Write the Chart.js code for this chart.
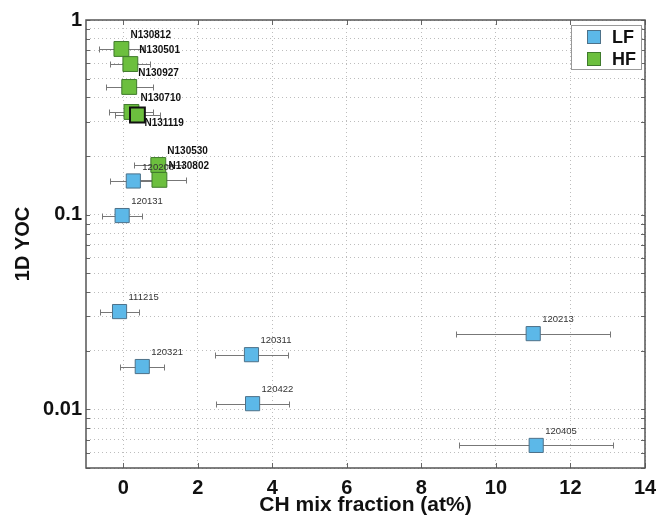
<!DOCTYPE html>
<html>
<head>
<meta charset="utf-8">
<script src="https://cdn.jsdelivr.net/npm/chart.js@4.4.1/dist/chart.umd.min.js"></script>
<style>
  html, body { margin: 0; padding: 0; background: #fff; }
  #wrap { width: 658px; height: 518px; }
</style>
</head>
<body>
<div id="wrap"><canvas id="chart" width="658" height="518"></canvas></div>
<script>
// LF shots
const LF_NAMES = ['111215', '120131', '120208', '120213', '120311', '120321', '120405', '120422'];
const LF_X = [-0.1, -0.03, 0.27, 11.0, 3.44, 0.51, 11.08, 3.47];
const LF_Y = [0.0318, 0.099, 0.149, 0.0245, 0.0191, 0.0166, 0.00653, 0.0107];
const LF_XERR = [0.52, 0.54, 0.62, 2.07, 0.98, 0.59, 2.06, 0.98];

// HF shots
const HF_NAMES = ['N130812', 'N130501', 'N130927', 'N130710', 'N131119', 'N130530', 'N130802'];
const HF_X = [-0.05, 0.19, 0.16, 0.22, 0.38, 0.94, 0.97];
const HF_Y = [0.71, 0.594, 0.453, 0.337, 0.325, 0.18, 0.151];
const HF_XERR = [0.59, 0.54, 0.63, 0.59, 0.6, 0.65, 0.7];

// axes
const X_TICKS = [0, 2, 4, 6, 8, 10, 12, 14];
const Y_TICKS = [0.005, 0.006, 0.007, 0.008, 0.009,
  0.01, 0.02, 0.03, 0.04, 0.05, 0.06, 0.07, 0.08, 0.09,
  0.1, 0.2, 0.3, 0.4, 0.5, 0.6, 0.7, 0.8, 0.9, 1];
const Y_MAJOR = [1, 0.1, 0.01];
const Y_MAJOR_LABELS = ['1', '0.1', '0.01'];

const HIGHLIGHT = ['N131119'];   // drawn with black outline
const LABEL_BELOW = ['N131119']; // label sits under the marker

const FONT = "'Liberation Sans', Arial, Helvetica, sans-serif";
const ERR_COLOR = '#777';

function pts(xs, ys) { return xs.map((x, i) => ({ x, y: ys[i] })); }

const decor = {
  id: 'decor',
  beforeDatasetsDraw(chart) {
    const { ctx, scales: { x, y } } = chart;
    ctx.save();
    ctx.strokeStyle = ERR_COLOR;
    ctx.lineWidth = 1;
    chart.data.datasets.forEach(ds => {
      ds.data.forEach((p, i) => {
        const e = ds.xErr[i];
        const py = Math.round(y.getPixelForValue(p.y)) + 0.5;
        const x0 = Math.round(x.getPixelForValue(p.x - e)) + 0.5;
        const x1 = Math.round(x.getPixelForValue(p.x + e)) + 0.5;
        ctx.beginPath();
        ctx.moveTo(x0, py); ctx.lineTo(x1, py);
        ctx.moveTo(x0, py - 3); ctx.lineTo(x0, py + 3);
        ctx.moveTo(x1, py - 3); ctx.lineTo(x1, py + 3);
        ctx.stroke();
      });
    });
    ctx.restore();
  },
  afterDatasetsDraw(chart) {
    const { ctx, scales: { x, y } } = chart;
    ctx.save();
    ctx.textAlign = 'left';
    ctx.textBaseline = 'middle';
    chart.data.datasets.forEach(ds => {
      ctx.font = ds.labelFont;
      ctx.fillStyle = ds.labelColor;
      ds.data.forEach((p, i) => {
        const name = ds.names[i];
        const px = x.getPixelForValue(p.x);
        const py = y.getPixelForValue(p.y);
        const below = LABEL_BELOW.includes(name);
        ctx.fillText(name, px + (below ? 7 : 9), py + (below ? 8 : -14));
      });
    });
    ctx.restore();
  },
  afterDraw(chart) {
    const { ctx, chartArea: a, scales: { x, y } } = chart;
    ctx.save();
    // inward tick marks
    ctx.strokeStyle = '#666';
    ctx.lineWidth = 1;
    ctx.beginPath();
    y.ticks.forEach(t => {
      const py = Math.round(y.getPixelForValue(t.value)) + 0.5;
      ctx.moveTo(a.left, py); ctx.lineTo(a.left + 4, py);
      ctx.moveTo(a.right, py); ctx.lineTo(a.right - 4, py);
    });
    x.ticks.forEach(t => {
      const px = Math.round(x.getPixelForValue(t.value)) + 0.5;
      ctx.moveTo(px, a.bottom); ctx.lineTo(px, a.bottom - 5);
      ctx.moveTo(px, a.top); ctx.lineTo(px, a.top + 5);
    });
    ctx.stroke();
    // frame
    ctx.strokeStyle = '#555';
    ctx.lineWidth = 1.5;
    ctx.strokeRect(a.left, a.top, a.right - a.left, a.bottom - a.top);
    // legend box
    const bw = 70, bh = 44;
    const bx = a.right - 4 - bw, by = a.top + 5;
    ctx.fillStyle = '#fff';
    ctx.fillRect(bx, by, bw, bh);
    ctx.strokeStyle = '#999';
    ctx.lineWidth = 1;
    ctx.strokeRect(bx + 0.5, by + 0.5, bw, bh);
    ctx.font = `bold 18px ${FONT}`;
    ctx.textBaseline = 'middle';
    ctx.textAlign = 'left';
    chart.data.datasets.forEach((ds, i) => {
      const cy = by + 12 + i * 22;
      ctx.fillStyle = ds.backgroundColor;
      ctx.fillRect(bx + 16, cy - 7, 14, 14);
      ctx.strokeStyle = ds.legendBorder;
      ctx.strokeRect(bx + 16.5, cy - 6.5, 13, 13);
      ctx.fillStyle = '#111';
      ctx.fillText(ds.label, bx + 41, cy + 1);
    });
    ctx.restore();
  }
};

new Chart(document.getElementById('chart'), {
  type: 'scatter',
  data: {
    datasets: [
      {
        label: 'LF',
        data: pts(LF_X, LF_Y),
        xErr: LF_XERR,
        names: LF_NAMES,
        labelFont: `9.5px ${FONT}`,
        labelColor: '#333',
        backgroundColor: '#5cb8e8',
        borderColor: '#4d7189',
        legendBorder: '#4d7189',
        borderWidth: 1,
        pointStyle: 'rect',
        pointRadius: 10
      },
      {
        label: 'HF',
        data: pts(HF_X, HF_Y),
        xErr: HF_XERR,
        names: HF_NAMES,
        labelFont: `bold 10px ${FONT}`,
        labelColor: '#111',
        backgroundColor: '#6cbf3e',
        borderColor: c => HIGHLIGHT.includes(HF_NAMES[c.dataIndex]) ? '#111' : '#3f7a2c',
        borderWidth: c => HIGHLIGHT.includes(HF_NAMES[c.dataIndex]) ? 2 : 1,
        legendBorder: '#3f7a2c',
        pointStyle: 'rect',
        pointRadius: 10.5
      }
    ]
  },
  options: {
    responsive: false,
    animation: false,
    events: [],
    layout: { padding: { top: 20, right: 13, left: 0, bottom: 0 } },
    plugins: { legend: { display: false }, tooltip: { enabled: false } },
    scales: {
      x: {
        type: 'linear',
        min: -1,
        max: 14,
        afterBuildTicks: s => { s.ticks = X_TICKS.map(v => ({ value: v })); },
        afterFit: s => { s.height = 50; s.paddingRight = 0; s.paddingLeft = 0; },
        grid: { color: '#bdbdbd', lineWidth: 1, drawTicks: false },
        border: { display: false, dash: [1, 3] },
        ticks: {
          autoSkip: false,
          maxRotation: 0,
          padding: 8,
          color: '#111',
          font: { family: FONT, size: 20, weight: 'bold' }
        },
        title: {
          display: true,
          text: 'CH mix fraction (at%)',
          color: '#111',
          padding: { top: 0, bottom: 0 },
          font: { family: FONT, size: 21, weight: 'bold', lineHeight: 1.2 }
        }
      },
      y: {
        type: 'logarithmic',
        min: 0.005,
        max: 1,
        afterBuildTicks: s => { s.ticks = Y_TICKS.map(v => ({ value: v })); },
        afterFit: s => { s.width = 86; s.paddingTop = 0; s.paddingBottom = 0; },
        grid: { color: '#bdbdbd', lineWidth: 1, drawTicks: false },
        border: { display: false, dash: [1, 3] },
        ticks: {
          autoSkip: false,
          padding: 4,
          color: '#111',
          font: { family: FONT, size: 20, weight: 'bold' },
          callback: v => {
            const k = Y_MAJOR.indexOf(v);
            return k >= 0 ? Y_MAJOR_LABELS[k] : '';
          }
        },
        title: {
          display: true,
          text: '1D YOC',
          color: '#111',
          padding: { top: 11, bottom: 0 },
          font: { family: FONT, size: 20, weight: 'bold', lineHeight: 1.2 }
        }
      }
    }
  },
  plugins: [decor]
});
</script>
</body>
</html>
